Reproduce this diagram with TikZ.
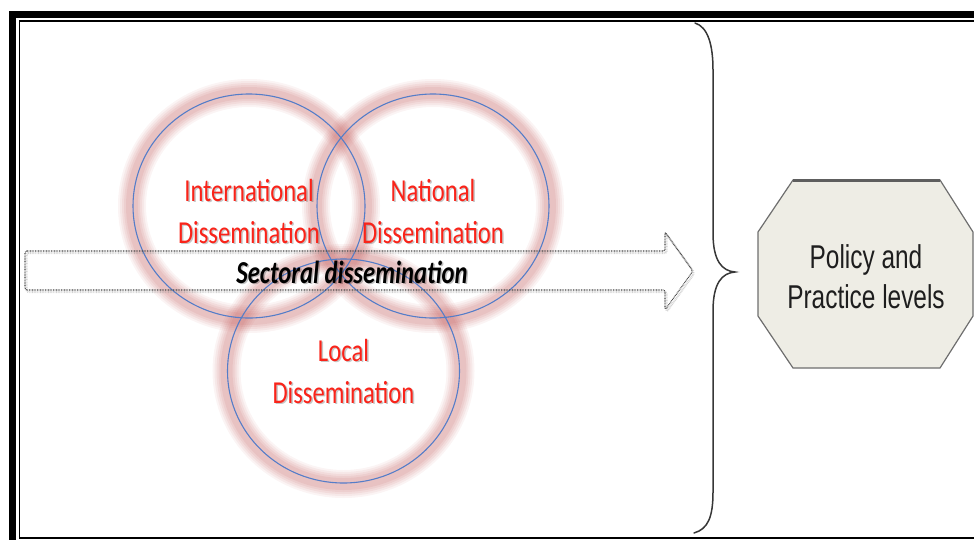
\documentclass[tikz,border=0pt]{standalone}
\usepackage{fontspec}
\setmainfont{Carlito}
\newfontfamily\arialfont{Liberation Sans}
\usepackage{graphicx}
\usetikzlibrary{calc}

\definecolor{haloRed}{RGB}{195,95,95}
\definecolor{ringBlue}{RGB}{85,125,200}
\definecolor{labelRed}{RGB}{250,35,25}
\definecolor{octFill}{RGB}{238,237,229}
\definecolor{octLine}{RGB}{110,110,110}
\definecolor{dotGray}{RGB}{70,70,70}
\definecolor{braceGray}{RGB}{55,55,55}

% horizontally condensed text line
\newcommand\cond[1]{\scalebox{0.77}[1]{#1}}
\newcommand\condp[1]{\scalebox{0.74}[1]{#1}}

\begin{document}
\begin{tikzpicture}[x=1pt,y=-1pt,
  halo/.style={draw=haloRed},
  ringline/.style={draw=ringBlue, line width=1.1pt},
  redlabel/.style={text=labelRed, align=center, inner sep=0pt,
    font=\fontsize{32}{42}\selectfont},
  labelshade/.style={redlabel, text=black, opacity=0.22},
  secttext/.style={inner sep=0pt, font=\fontsize{32}{38}\bfseries\itshape\selectfont},
  arrowoutline/.style={draw=dotGray, line width=1.1pt, dash pattern=on 0.8pt off 0.8pt,
    rounded corners=2pt},
  octagon/.style={draw=octLine, fill=octFill, line width=1.2pt, line join=miter},
  policytext/.style={text={rgb,255:red,30;green,30;blue,30}, align=center, inner sep=0pt,
    font=\arialfont\fontsize{33}{40}\selectfont},
  bracestyle/.style={draw=braceGray, line width=1.5pt, line cap=round},
]
\useasboundingbox (0,0) rectangle (974,539);
\clip (0,0) rectangle (974,539);

% page frame: thick outer border and thin inner border
\draw[line width=7.5pt] (12.5,14.6) rectangle (1000,580);
\draw[line width=1.8pt] (19.5,21.2) rectangle (995,538.2);

% ring centres
\coordinate (intlC) at (249,206);
\coordinate (natC) at (433,206);
\coordinate (locC) at (343.5,371);

% soft red glow of the three rings
\foreach \c in {intlC,natC,locC}{
  \foreach \w/\o in {28/0.07,24/0.08,20/0.09,16/0.1,12/0.11}{
    \draw[halo, line width=\w pt, opacity=\o] (\c) ellipse [x radius=117, y radius=113];
  }
}
% thin blue ring lines
\foreach \c in {intlC,natC,locC}{
  \draw[ringline] (\c) ellipse [x radius=116, y radius=112];
}

% sectoral arrow (shadow, then dotted outline)
\draw[arrowoutline, draw=gray, opacity=0.35, line width=2pt, shift={(1.5,2)}]
  (25,251) -- (665,251) -- (665,232) -- (693,271) -- (665,310) -- (665,290) -- (25,290) -- cycle;
\draw[arrowoutline]
  (25,251) -- (665,251) -- (665,232) -- (693,271) -- (665,310) -- (665,290) -- (25,290) -- cycle;

% ring labels with soft shadow
\node[labelshade] (intlS) at ($(249,211)+(1.5,1.8)$) {\cond{International}\\\cond{Dissemination}};
\node[redlabel] (intl) at (249,211) {\cond{International}\\\cond{Dissemination}};
\node[labelshade] (natS) at ($(433,211)+(1.5,1.8)$) {\cond{National}\\\cond{Dissemination}};
\node[redlabel] (nat) at (433,211) {\cond{National}\\\cond{Dissemination}};
\node[labelshade] (locS) at ($(343.5,371)+(1.5,1.8)$) {\cond{Local}\\\cond{Dissemination}};
\node[redlabel] (loc) at (343.5,371) {\cond{Local}\\\cond{Dissemination}};

% arrow caption
\node[secttext, text=black, opacity=0.25] (sectS) at ($(352,272)+(1.5,1.8)$) {\cond{Sectoral dissemination}};
\node[secttext] (sect) at (352,272) {\cond{Sectoral dissemination}};

% right brace
\draw[bracestyle] (695,23) .. controls (708,27) and (713,45) .. (713,70)
  -- (713,233) .. controls (713,261) and (722,271) .. (735,272)
  .. controls (722,273) and (713,283) .. (713,311)
  -- (713,492) .. controls (713,517) and (708,529) .. (694,533);
\coordinate (braceTip) at (735,272);

% policy octagon
\draw[octagon] (793,180) -- (940,180) -- (973,232) -- (973,316) -- (940,368)
  -- (793,368) -- (758,316) -- (758,232) -- cycle;
\draw[octLine!85!black, line width=3pt] (793,180.8) -- (940,180.8);
\node[policytext] (policy) at (866,277) {\condp{Policy and}\\\condp{Practice levels}};
\end{tikzpicture}
\end{document}
